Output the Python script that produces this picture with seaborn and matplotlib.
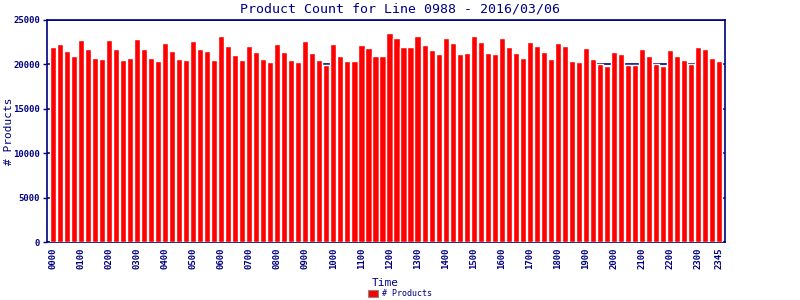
import matplotlib
matplotlib.use("Agg")
import matplotlib.pyplot as plt
import seaborn as sns
import pandas as pd
from matplotlib.patches import Patch

times = [f"{h:02d}{m:02d}" for h in range(24) for m in (0, 15, 30, 45)]
products = [
    21960, 22330, 21510, 20950, 22750, 21730, 20720, 20610,
    22750, 21730, 20500, 20720, 22860, 21730, 20720, 20380,
    22410, 21510, 20610, 20500, 22630, 21730, 21510, 20500,
    23200, 22070, 21060, 20500, 22070, 21400, 20610, 20270,
    22300, 21400, 20500, 20270, 22630, 21280, 20500, 19970,
    22300, 20950, 20380, 20380, 22180, 21850, 20950, 20950,
    23540, 22970, 21960, 21960, 23200, 22180, 21620, 21170,
    22970, 22410, 21170, 21280, 23200, 22520, 21280, 21170,
    22970, 21960, 21280, 20720, 22520, 22070, 21400, 20610,
    22410, 22070, 20380, 20270, 21850, 20610, 20050, 19820,
    21400, 21170, 19950, 19950, 21730, 20950, 20000, 19820,
    21620, 20950, 20500, 20000, 21960, 21730, 20720, 20380,
]
tick_labels = [t for t in times if t.endswith("00")] + ["2345"]
title = "Product Count for Line 0988 - 2016/03/06"
series_name = "# Products"

navy = "#000080"
df = pd.DataFrame({"Time": times, "Products": products})

sns.set_theme(style="white")
plt.rcParams["font.family"] = ["DejaVu Sans Mono"]

fig = plt.figure(figsize=(8, 3), dpi=100)
ax = fig.add_axes([47 / 800, 1 - 242 / 300, (725 - 47) / 800, (242 - 20) / 300])

sns.barplot(data=df, x="Time", y="Products", color="#ff0000", saturation=1,
            width=0.88, ax=ax, zorder=3)

ax.set_xlim(-0.8, len(times) - 0.2)
ax.set_ylim(0, 25000)
ax.set_yticks([0, 5000, 10000, 15000, 20000, 25000])
ax.yaxis.grid(True, color=navy, linewidth=1.2, zorder=0)
ax.set_axisbelow(True)

pos = [i for i, t in enumerate(times) if t in tick_labels]
ax.set_xticks(pos)
ax.set_xticklabels([times[i] for i in pos], rotation=90, fontsize=6.5,
                   color=navy, fontweight="bold")
ax.tick_params(axis="x", length=0, pad=4)
ax.tick_params(axis="y", length=3, width=1, color=navy, labelsize=6.5,
               labelcolor=navy, pad=2, left=True)
for lbl in ax.get_yticklabels():
    lbl.set_fontweight("bold")

for s in ax.spines.values():
    s.set_color(navy)
    s.set_linewidth(1.2)
    s.set_visible(True)

ax.set_xlabel("Time", color=navy, fontsize=8)
ax.xaxis.set_label_coords((385 - 47) / 678, -(278 - 242) / 222)
ax.set_ylabel(series_name, color=navy, fontsize=8)
ax.yaxis.set_label_coords(-(47 - 14) / 678, 0.5)

fig.text(0.5, 1 - 9 / 300, title, ha="center", va="center", color=navy, fontsize=9.5)

handle = Patch(facecolor="#ff0000", edgecolor="#888888", linewidth=0.8)
fig.legend([handle], [series_name], loc="center", bbox_to_anchor=(0.5, 1 - 294 / 300),
           frameon=False, fontsize=6, labelcolor=navy, handlelength=1.2,
           handleheight=0.8, handletextpad=0.4, borderpad=0)

fig.savefig("out.png", dpi=100, facecolor="white")
